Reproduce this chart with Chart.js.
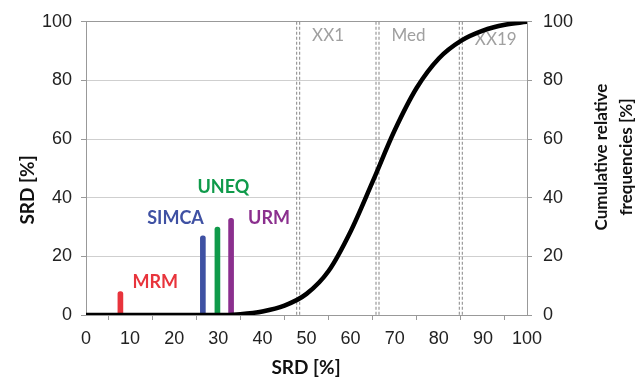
<!DOCTYPE html>
<html lang="en">
<head>
    <meta charset="UTF-8">
    <title>SRD</title>
    <script src="https://cdn.jsdelivr.net/npm/chart.js"></script>
    <style>
        body { margin: 0; background: #fff; }
        #wrap { width: 635px; height: 381px; }
    </style>
</head>
<body>
    <div id="wrap">
        <canvas id="srdChart" width="635" height="381"></canvas>
    </div>

    <script>
        // cumulative relative frequency curve
        const cdfX = [0, 10, 20, 30, 35, 40, 45, 50, 55, 60, 65, 70, 75, 80, 85, 90, 95, 100];
        const cdfY = [0, 0, 0, 0, 0.3, 1.2, 3.2, 7.2, 15, 28.5, 45.5, 63, 77.5, 87.5, 93.5, 97, 99, 100];

        // methods and their SRD values
        const methods = ['MRM', 'SIMCA', 'UNEQ', 'URM'];
        const methodX = [7.8, 26.5, 29.8, 32.9];
        const methodY = [8, 27, 30, 33];
        const methodColors = ['#e8343c', '#3f51a3', '#0f9a4a', '#8b2f8e'];

        // percentile markers
        const markers = ['XX1', 'Med', 'XX19'];
        const markerX = [48.1, 66.1, 85.0];

        const yTicks = [0, 20, 40, 60, 80, 100];

        const curve = cdfX.map((x, i) => ({ x: x, y: cdfY[i] }));
        const bars = methodX.map((x, i) => ({ x: x, y: methodY[i] }));

        // where each method label sits relative to its bar top
        const labelPos = {
            MRM:   { align: 'left',   dx: 12, dy: -9 },
            SIMCA: { align: 'right',  dx: 1,  dy: -18 },
            UNEQ:  { align: 'center', dx: 6,  dy: -40 },
            URM:   { align: 'left',   dx: 17, dy: 0 }
        };

        const extras = {
            id: 'extras',
            beforeDatasetsDraw(chart) {
                const ctx = chart.ctx;
                const xs = chart.scales.x;
                const area = chart.chartArea;
                ctx.save();
                ctx.strokeStyle = '#9a9a9a';
                ctx.lineWidth = 1.2;
                ctx.setLineDash([3, 2]);
                markerX.forEach(v => {
                    const px = xs.getPixelForValue(v);
                    [-1.5, 1.5].forEach(o => {
                        ctx.beginPath();
                        ctx.moveTo(px + o, area.top);
                        ctx.lineTo(px + o, area.bottom);
                        ctx.stroke();
                    });
                });
                ctx.setLineDash([]);
                ctx.fillStyle = '#a0a0a0';
                ctx.font = '17px Lato';
                ctx.textAlign = 'left';
                ctx.textBaseline = 'middle';
                markers.forEach((m, i) => {
                    const px = xs.getPixelForValue(markerX[i]);
                    ctx.fillText(m, px + 14, area.top + (i === 2 ? 18 : 14));
                });
                ctx.restore();
            },
            afterDraw(chart) {
                const ctx = chart.ctx;
                const meta = chart.getDatasetMeta(1);
                ctx.save();
                ctx.font = 'bold 18px Lato';
                ctx.textBaseline = 'middle';
                methods.forEach((m, i) => {
                    const bar = meta.data[i];
                    const p = labelPos[m];
                    ctx.fillStyle = methodColors[i];
                    ctx.textAlign = p.align;
                    ctx.fillText(m, bar.x + p.dx, bar.y + p.dy);
                });

                // axis titles
                ctx.fillStyle = '#111';
                ctx.textAlign = 'center';
                ctx.font = 'bold 19px Lato';
                ctx.fillText('SRD [%]', 306, 368);

                ctx.translate(28, 190);
                ctx.rotate(-Math.PI / 2);
                ctx.fillText('SRD [%]', 0, 0);
                ctx.setTransform(1, 0, 0, 1, 0, 0);

                ctx.font = 'bold 17px Lato';
                ctx.translate(602, 157);
                ctx.rotate(-Math.PI / 2);
                ctx.fillText('Cumulative relative', 0, 0);
                ctx.fillText('frequencies [%]', 0, 25);
                ctx.restore();
            }
        };

        const tickFont = { family: '"Liberation Sans", Arial', size: 18 };

        new Chart(document.getElementById('srdChart'), {
            data: {
                datasets: [{
                    type: 'line',
                    data: curve,
                    borderColor: '#000',
                    borderWidth: 4.5,
                    pointRadius: 0,
                    cubicInterpolationMode: 'monotone',
                    yAxisID: 'y2',
                    order: 0
                }, {
                    type: 'bar',
                    data: bars,
                    backgroundColor: methodColors,
                    barThickness: 5,
                    borderRadius: { topLeft: 2.5, topRight: 2.5 },
                    borderSkipped: 'bottom',
                    yAxisID: 'y',
                    order: 1
                }]
            },
            plugins: [extras],
            options: {
                responsive: false,
                animation: false,
                layout: { padding: { top: 19 } },
                plugins: {
                    legend: { display: false },
                    tooltip: { enabled: false }
                },
                scales: {
                    x: {
                        type: 'linear',
                        min: 0,
                        max: 100,
                        offset: false,
                        afterFit: s => { s.height = 66; },
                        ticks: { stepSize: 10, color: '#222', font: tickFont, padding: 8 },
                        grid: { drawOnChartArea: false, tickLength: 5, color: '#999' },
                        border: { color: '#999' }
                    },
                    y: {
                        position: 'left',
                        min: 0,
                        max: 100,
                        afterFit: s => { s.width = 86; },
                        afterBuildTicks: s => { s.ticks = yTicks.map(v => ({ value: v })); },
                        ticks: { color: '#222', font: tickFont, padding: 9 },
                        grid: {
                            tickLength: 5,
                            color: c => (c.tick && c.tick.value === 100) ? '#999' : '#cfcfcf',
                            tickColor: '#999'
                        },
                        border: { color: '#999' }
                    },
                    y2: {
                        position: 'right',
                        min: 0,
                        max: 100,
                        afterFit: s => { s.width = 108; },
                        afterBuildTicks: s => { s.ticks = yTicks.map(v => ({ value: v })); },
                        ticks: { color: '#222', font: tickFont, padding: 11 },
                        grid: { drawOnChartArea: false, tickLength: 5, color: '#999' },
                        border: { color: '#999' }
                    }
                }
            }
        });
    </script>
</body>
</html>
